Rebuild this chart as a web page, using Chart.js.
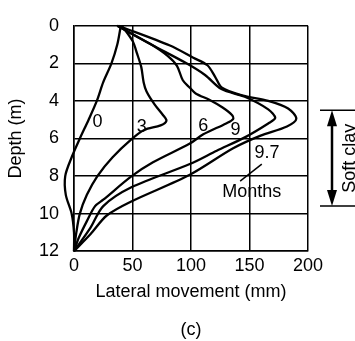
<!DOCTYPE html>
<html>
<head>
<meta charset="utf-8">
<script src="https://cdn.jsdelivr.net/npm/chart.js@4.4.0/dist/chart.umd.js"></script>
<style>
    html, body { margin: 0; padding: 0; background: #fff; }
</style>
</head>
<body>
<canvas id="movementChart" width="355" height="341"></canvas>
<script>
// Lateral movement profiles, [movement (mm), depth (m)] pairs
const curve0 = [[40,0],[37,1],[32,2],[25,3],[19.5,4],[12.5,5],[5,6],[-2,7],[-7.5,8],[-7,9],[-2,10],[0,11],[0,12]];
const curve3 = [[41,0],[50,0.8],[54,1.5],[57.5,2.2],[59.5,3.0],[62,3.5],[69,4.2],[76,4.75],[79,5.05],[74,5.3],[60,5.55],[49,6.05],[33,7],[20,8],[11,9],[5,10],[2,11],[0,12]];
const curve6 = [[37,0],[65,0.96],[80,1.6],[88,2.13],[93,2.9],[99,3.3],[104,3.6],[116,3.95],[127,4.35],[135,4.75],[136,4.97],[130,5.2],[110.5,5.78],[99,6.27],[67.5,7.27],[49,8.02],[25,9.26],[18,9.6],[11,10.4],[4,11.3],[0,12]];
const curve9 = [[37,0],[66,1.0],[95,1.96],[112,2.62],[126,3.37],[146,3.78],[166,4.45],[172,4.9],[166,5.2],[146,5.94],[122,6.65],[99,7.36],[49,8.6],[25,9.6],[14,10.76],[0,12]];
const curve97 = [[38,0],[82,1.05],[102,1.7],[114,2.1],[120.5,2.7],[126.5,3.3],[143.6,3.7],[166,4.0],[183,4.4],[190,4.95],[182,5.36],[159,5.86],[136,6.52],[99,7.93],[49,9.35],[28,10.1],[14,11.1],[0,12]];

// Curve labels (months) and where they sit, in data units
const monthLabels = ['0', '3', '6', '9', '9.7'];
const labelMove = [20, 58, 110.5, 138, 165];
const labelDepth = [5.13, 5.4, 5.36, 5.55, 6.75];

// Soft clay layer, depth range (m)
const softClay = [4.5, 9.6];

const TEXT_FONT = "18px 'Liberation Sans', Arial, Helvetica, sans-serif";

Chart.defaults.font.family = "'Liberation Sans', Arial, Helvetica, sans-serif";
Chart.defaults.font.size = 18;
Chart.defaults.color = '#000';

function toPoints(pairs) {
    return pairs.map(p => ({ x: p[0], y: p[1] }));
}

function makeDataset(label, pairs) {
    return {
        label: label,
        data: toPoints(pairs),
        borderColor: '#000',
        borderWidth: 2.3,
        pointRadius: 0,
        fill: false,
        tension: 0.3,
        clip: false
    };
}

// Draws the curve labels, the "Months" note and the soft clay marker
const annotationPlugin = {
    id: 'annotations',
    afterDatasetsDraw(chart) {
        const { ctx, chartArea } = chart;
        const xs = chart.scales.x;
        const ys = chart.scales.y;
        ctx.save();
        ctx.fillStyle = '#000';
        ctx.strokeStyle = '#000';
        ctx.font = TEXT_FONT;
        ctx.textAlign = 'center';
        ctx.textBaseline = 'middle';

        monthLabels.forEach((t, i) => {
            ctx.fillText(t, xs.getPixelForValue(labelMove[i]), ys.getPixelForValue(labelDepth[i]));
        });
        ctx.fillText('Months', xs.getPixelForValue(152), ys.getPixelForValue(8.85));

        // leader from 9.7 to Months
        ctx.lineWidth = 1.5;
        ctx.beginPath();
        ctx.moveTo(xs.getPixelForValue(160.5), ys.getPixelForValue(7.36));
        ctx.lineTo(xs.getPixelForValue(142), ys.getPixelForValue(8.27));
        ctx.stroke();

        // soft clay double arrow
        const top = ys.getPixelForValue(softClay[0]);
        const bottom = ys.getPixelForValue(softClay[1]);
        const ax = chartArea.right + 24;
        ctx.lineWidth = 1.5;
        ctx.beginPath();
        ctx.moveTo(chartArea.right + 12, top);
        ctx.lineTo(chart.width, top);
        ctx.moveTo(chartArea.right + 12, bottom);
        ctx.lineTo(chart.width, bottom);
        ctx.stroke();
        ctx.lineWidth = 2.5;
        ctx.beginPath();
        ctx.moveTo(ax, top + 10);
        ctx.lineTo(ax, bottom - 10);
        ctx.stroke();
        ctx.beginPath();
        ctx.moveTo(ax, top);
        ctx.lineTo(ax - 5, top + 16);
        ctx.lineTo(ax + 5, top + 16);
        ctx.closePath();
        ctx.fill();
        ctx.beginPath();
        ctx.moveTo(ax, bottom);
        ctx.lineTo(ax - 5, bottom - 16);
        ctx.lineTo(ax + 5, bottom - 16);
        ctx.closePath();
        ctx.fill();

        ctx.translate(chartArea.right + 42, (top + bottom) / 2);
        ctx.rotate(-Math.PI / 2);
        ctx.fillText('Soft clay', 0, 0);
        ctx.restore();
    }
};

const gridStyle = { color: '#000', lineWidth: 1.5, drawTicks: false };
const borderStyle = { color: '#000', width: 1.5 };

new Chart(document.getElementById('movementChart'), {
    type: 'line',
    data: {
        datasets: [
            makeDataset('0', curve0),
            makeDataset('3', curve3),
            makeDataset('6', curve6),
            makeDataset('9', curve9),
            makeDataset('9.7', curve97)
        ]
    },
    options: {
        responsive: false,
        animation: false,
        elements: { line: { capBezierPoints: false } },
        layout: { padding: { top: 14, right: 47, left: 0, bottom: 0 } },
        plugins: {
            legend: { display: false },
            tooltip: { enabled: false },
            title: {
                display: true,
                text: '(c)',
                position: 'bottom',
                fullSize: false,
                padding: { top: 17, bottom: 0 },
                font: { size: 18, weight: 'normal' }
            }
        },
        scales: {
            x: {
                type: 'linear',
                min: 0,
                max: 200,
                ticks: { stepSize: 50, padding: 4 },
                grid: gridStyle,
                border: borderStyle,
                title: { display: true, text: 'Lateral movement (mm)', padding: { top: 0, bottom: 0 } }
            },
            y: {
                type: 'linear',
                reverse: true,
                min: 0,
                max: 12,
                ticks: { stepSize: 2, padding: 15 },
                grid: gridStyle,
                border: borderStyle,
                title: { display: true, text: 'Depth (m)', padding: { top: 5, bottom: 0 } },
                afterFit(scale) { scale.width = 74; }
            }
        }
    },
    plugins: [annotationPlugin]
});
</script>
</body>
</html>
